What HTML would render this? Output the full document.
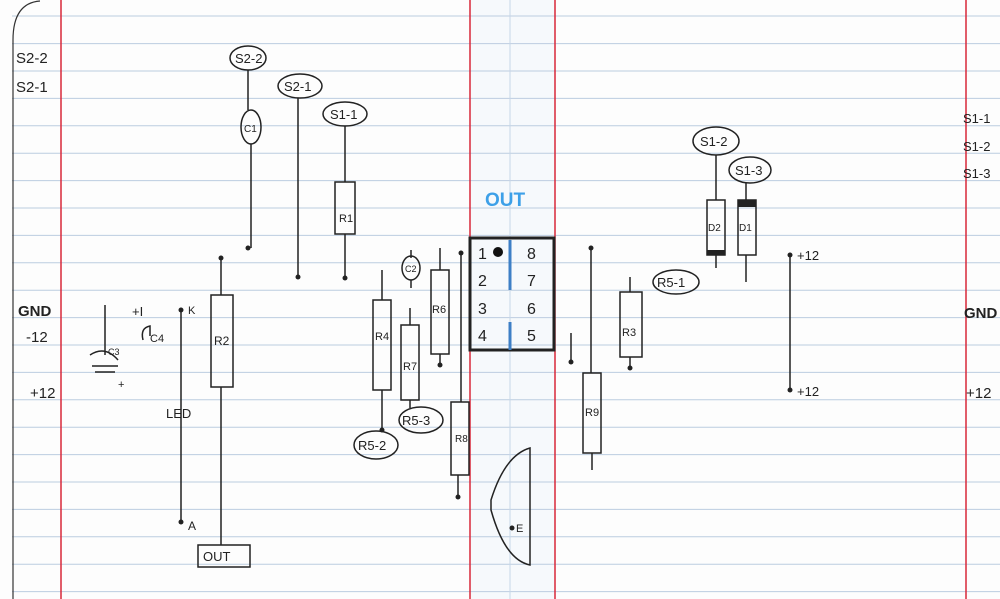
<!DOCTYPE html>
<html><head><style>
body{margin:0;background:#fff}
svg{display:block}
text{font-family:"Liberation Sans",sans-serif;fill:#222}
</style></head><body>
<svg width="1000" height="599" viewBox="0 0 1000 599" xmlns="http://www.w3.org/2000/svg">
<rect width="1000" height="599" fill="#fdfdfd"/>
<rect x="470" y="0" width="85" height="599" fill="#f6f9fc"/>
<g stroke="#bccde0" stroke-width="1">
<line x1="12" y1="16" x2="1000" y2="16"/><line x1="12" y1="43.6" x2="1000" y2="43.6"/>
<line x1="12" y1="71" x2="1000" y2="71"/><line x1="12" y1="98.4" x2="1000" y2="98.4"/>
<line x1="12" y1="125.8" x2="1000" y2="125.8"/><line x1="12" y1="153.2" x2="1000" y2="153.2"/>
<line x1="12" y1="180.6" x2="1000" y2="180.6"/><line x1="12" y1="208" x2="1000" y2="208"/>
<line x1="12" y1="235.4" x2="1000" y2="235.4"/><line x1="12" y1="262.8" x2="1000" y2="262.8"/>
<line x1="12" y1="290.2" x2="1000" y2="290.2"/><line x1="12" y1="317.6" x2="1000" y2="317.6"/>
<line x1="12" y1="345" x2="1000" y2="345"/><line x1="12" y1="372.4" x2="1000" y2="372.4"/>
<line x1="12" y1="399.8" x2="1000" y2="399.8"/><line x1="12" y1="427.2" x2="1000" y2="427.2"/>
<line x1="12" y1="454.6" x2="1000" y2="454.6"/><line x1="12" y1="482" x2="1000" y2="482"/>
<line x1="12" y1="509.4" x2="1000" y2="509.4"/><line x1="12" y1="536.8" x2="1000" y2="536.8"/>
<line x1="12" y1="564.2" x2="1000" y2="564.2"/><line x1="12" y1="591.6" x2="1000" y2="591.6"/>
</g>
<path d="M13 599 V40 Q13 3 40 1" fill="none" stroke="#333" stroke-width="1.2"/>
<g stroke="#d8283a" stroke-width="1.5">
<line x1="61" y1="0" x2="61" y2="599"/><line x1="470" y1="0" x2="470" y2="599"/>
<line x1="555" y1="0" x2="555" y2="599"/><line x1="966" y1="0" x2="966" y2="599"/>
</g>
<line x1="510" y1="0" x2="510" y2="599" stroke="#c6d6e8" stroke-width="1"/>
<g font-size="15">
<text x="16" y="63">S2-2</text><text x="16" y="92">S2-1</text>
<text x="18" y="316" font-weight="bold">GND</text><text x="26" y="342">-12</text><text x="30" y="398">+12</text>
<text x="963" y="123" font-size="13">S1-1</text><text x="963" y="151" font-size="13">S1-2</text><text x="963" y="178" font-size="13">S1-3</text>
<text x="964" y="318" font-weight="bold">GND</text><text x="966" y="398">+12</text>
</g>
<text x="485" y="206" font-size="19" font-weight="bold" style="fill:#3da0e8">OUT</text>
<g fill="none" stroke="#222" stroke-width="1.5">
<ellipse cx="248" cy="58" rx="18" ry="12"/><ellipse cx="300" cy="86" rx="22" ry="12"/><ellipse cx="345" cy="114" rx="22" ry="12"/>
<ellipse cx="251" cy="127" rx="10" ry="17"/>
<line x1="248" y1="70" x2="248" y2="110"/><line x1="251" y1="144" x2="251" y2="248"/>
<line x1="298" y1="98" x2="298" y2="277"/><line x1="345" y1="126" x2="345" y2="182"/>
<rect x="335" y="182" width="20" height="52"/><line x1="345" y1="234" x2="345" y2="278"/>
<line x1="221" y1="258" x2="221" y2="295"/><rect x="211" y="295" width="22" height="92"/><line x1="221" y1="387" x2="221" y2="545"/>
<rect x="198" y="545" width="52" height="22"/>
<line x1="181" y1="310" x2="181" y2="522"/>
<path d="M105 305 V355 M92 366 H118 M95 372 H115 M90 355 Q105 345 118 360"/>
<path d="M143 340 Q140 328 150 326 V336"/>
<line x1="411" y1="250" x2="411" y2="258"/><ellipse cx="411" cy="268" rx="9" ry="12"/><line x1="411" y1="280" x2="411" y2="288"/>
<line x1="382" y1="270" x2="382" y2="300"/><rect x="373" y="300" width="18" height="90"/><line x1="382" y1="390" x2="382" y2="430"/>
<ellipse cx="376" cy="445" rx="22" ry="14"/>
<line x1="410" y1="308" x2="410" y2="325"/><rect x="401" y="325" width="18" height="75"/><line x1="410" y1="400" x2="410" y2="408"/>
<ellipse cx="421" cy="420" rx="22" ry="13"/>
<line x1="440" y1="248" x2="440" y2="270"/><rect x="431" y="270" width="18" height="84"/><line x1="440" y1="354" x2="440" y2="365"/>
<line x1="461" y1="253" x2="461" y2="402"/><rect x="451" y="402" width="18" height="73"/><line x1="458" y1="475" x2="458" y2="497"/>
<rect x="470" y="238" width="84" height="112" stroke-width="3"/>
<line x1="510" y1="240" x2="510" y2="290" stroke="#3d7fc6" stroke-width="3"/><line x1="510" y1="322" x2="510" y2="350" stroke="#3d7fc6" stroke-width="3"/>
<path d="M491 500 Q505 455 530 448 V565 Q505 560 491 510 Z"/>
<line x1="571" y1="333" x2="571" y2="362"/>
<line x1="591" y1="248" x2="591" y2="373"/><rect x="583" y="373" width="18" height="80"/><line x1="592" y1="453" x2="592" y2="470"/>
<line x1="630" y1="277" x2="630" y2="292"/><rect x="620" y="292" width="22" height="65"/><line x1="630" y1="357" x2="630" y2="368"/>
<ellipse cx="676" cy="282" rx="23" ry="12"/>
<ellipse cx="716" cy="141" rx="23" ry="14"/><ellipse cx="750" cy="170" rx="21" ry="13"/>
<line x1="716" y1="155" x2="716" y2="200"/><rect x="707" y="200" width="18" height="55"/><line x1="716" y1="255" x2="716" y2="268"/>
<line x1="746" y1="183" x2="746" y2="200"/><rect x="738" y="200" width="18" height="55"/><line x1="746" y1="255" x2="746" y2="282"/>
<line x1="790" y1="255" x2="790" y2="390"/>
</g>
<rect x="707" y="250" width="18" height="5" fill="#222"/><rect x="738" y="200" width="18" height="7" fill="#222"/>
<circle cx="498" cy="252" r="5" fill="#111"/>
<g fill="#222">
<circle cx="248" cy="248" r="2.5"/><circle cx="298" cy="277" r="2.5"/><circle cx="345" cy="278" r="2.5"/><circle cx="221" cy="258" r="2.5"/>
<circle cx="181" cy="310" r="2.5"/><circle cx="181" cy="522" r="2.5"/><circle cx="461" cy="253" r="2.5"/><circle cx="458" cy="497" r="2.5"/>
<circle cx="591" cy="248" r="2.5"/><circle cx="571" cy="362" r="2.5"/><circle cx="790" cy="255" r="2.5"/><circle cx="790" cy="390" r="2.5"/>
<circle cx="382" cy="430" r="2.5"/><circle cx="440" cy="365" r="2.5"/><circle cx="630" cy="368" r="2.5"/><circle cx="512" cy="528" r="2.5"/>
</g>
<g font-size="13">
<text x="235" y="63">S2-2</text><text x="284" y="91">S2-1</text><text x="330" y="119">S1-1</text>
<text x="244" y="132" font-size="10">C1</text><text x="339" y="222" font-size="11">R1</text><text x="214" y="345" font-size="12">R2</text>
<text x="203" y="561" font-size="13">OUT</text><text x="188" y="314" font-size="11">K</text><text x="188" y="530" font-size="12">A</text>
<text x="166" y="418" font-size="13">LED</text><text x="132" y="316" font-size="13">+I</text><text x="150" y="342" font-size="11">C4</text>
<text x="108" y="355" font-size="9">C3</text><text x="118" y="388" font-size="11">+</text>
<text x="405" y="272" font-size="9">C2</text><text x="375" y="340" font-size="11">R4</text><text x="403" y="370" font-size="11">R7</text>
<text x="432" y="313" font-size="11">R6</text><text x="455" y="442" font-size="10">R8</text>
<text x="358" y="450">R5-2</text><text x="402" y="425">R5-3</text>
<text x="585" y="416" font-size="11">R9</text><text x="622" y="336" font-size="11">R3</text><text x="657" y="287">R5-1</text>
<text x="700" y="146">S1-2</text><text x="735" y="175">S1-3</text>
<text x="708" y="231" font-size="10">D2</text><text x="739" y="231" font-size="10">D1</text>
<text x="797" y="260">+12</text><text x="797" y="396">+12</text><text x="516" y="532" font-size="11">E</text>
</g>
<g font-size="16">
<text x="478" y="259">1</text><text x="527" y="259">8</text><text x="478" y="286">2</text><text x="527" y="286">7</text>
<text x="478" y="314">3</text><text x="527" y="314">6</text><text x="478" y="341">4</text><text x="527" y="341">5</text>
</g>
</svg>
</body></html>
